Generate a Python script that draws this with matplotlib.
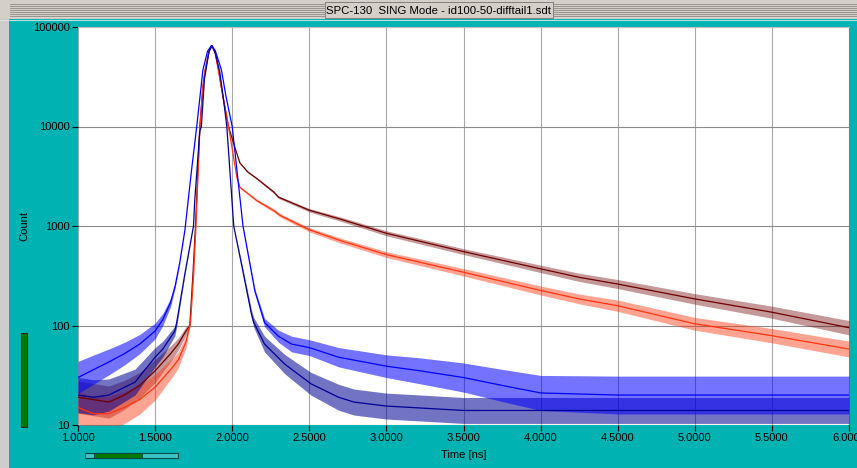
import matplotlib
matplotlib.use("Agg")
import matplotlib.pyplot as plt
from matplotlib.patches import Rectangle
from matplotlib.ticker import FixedLocator, NullLocator, FuncFormatter
import numpy as np

# --- valeurs (Time [ns], Count) ---
t_maroon = [1.00, 1.10, 1.20, 1.30, 1.40, 1.50, 1.60, 1.65, 1.70, 1.725, 1.745, 1.762,
            1.79, 1.81, 1.825, 1.85, 1.868, 1.89, 1.911, 1.94, 1.976, 2.01, 2.05, 2.10,
            2.16, 2.27, 2.30, 2.50, 2.70, 3.00, 3.50, 4.00, 4.25, 4.50, 5.00, 5.50, 6.00]
c_maroon = [19, 18, 17, 20, 25, 35, 52, 65, 88, 100, 320, 1000,
            10000, 25000, 37000, 57000, 65000, 55000, 37000, 20000, 10000, 6700, 4300, 3500,
            3000, 2190, 1950, 1440, 1175, 845, 553, 371, 305, 261, 185, 136, 95]
# largeur du bruit (facteur haut/bas)
s_maroon = [1.45, 1.45, 1.45, 1.4, 1.35, 1.3, 1.2, 1.15, 1.1, 1.05, 1.02, 1.0,
            1.0, 1.0, 1.0, 1.0, 1.0, 1.0, 1.0, 1.0, 1.0, 1.0, 1.01, 1.02,
            1.02, 1.03, 1.03, 1.04, 1.05, 1.06, 1.07, 1.09, 1.1, 1.11, 1.13, 1.15, 1.18]

t_orange = [1.00, 1.10, 1.20, 1.30, 1.40, 1.50, 1.60, 1.65, 1.70, 1.73, 1.75, 1.765,
            1.79, 1.81, 1.825, 1.85, 1.868, 1.89, 1.911, 1.94, 1.976, 2.00, 2.03, 2.05,
            2.16, 2.27, 2.31, 2.50, 2.70, 3.00, 3.50, 4.00, 4.25, 4.50, 5.00, 5.50, 6.00]
c_orange = [15, 13, 13, 15, 18, 24, 36, 45, 68, 110, 330, 1000,
            9500, 25000, 37000, 57000, 65000, 55000, 37000, 20000, 10000, 6000, 3100, 2450,
            1800, 1430, 1280, 917, 715, 516, 343, 225, 185, 158, 104, 79, 58]
s_orange = [1.45, 1.5, 1.5, 1.45, 1.4, 1.35, 1.25, 1.2, 1.15, 1.05, 1.02, 1.0,
            1.0, 1.0, 1.0, 1.0, 1.0, 1.0, 1.0, 1.0, 1.0, 1.0, 1.01, 1.02,
            1.03, 1.04, 1.04, 1.05, 1.06, 1.07, 1.09, 1.11, 1.12, 1.14, 1.16, 1.18, 1.2]

t_blue = [1.00, 1.10, 1.20, 1.30, 1.40, 1.50, 1.55, 1.60, 1.63, 1.66, 1.693, 1.736,
          1.77, 1.81, 1.84, 1.865, 1.89, 1.93, 1.96, 2.00, 2.07, 2.147, 2.21, 2.30,
          2.386, 2.50, 2.69, 3.00, 3.22, 3.50, 3.75, 4.00, 4.50, 5.00, 5.50, 6.00]
c_blue = [30, 36, 43, 52, 65, 88, 115, 170, 250, 430, 900, 3600,
          10000, 37000, 57000, 65000, 58000, 37000, 20000, 10000, 1000, 222, 107, 78,
          65, 60, 48, 39, 35, 30, 25, 21, 20, 20, 20, 20]
s_blue = [1.45, 1.4, 1.35, 1.3, 1.25, 1.2, 1.15, 1.1, 1.05, 1.02, 1.0, 1.0,
          1.0, 1.0, 1.0, 1.0, 1.0, 1.0, 1.0, 1.0, 1.0, 1.05, 1.1, 1.15,
          1.2, 1.2, 1.25, 1.3, 1.35, 1.4, 1.45, 1.5, 1.55, 1.55, 1.55, 1.55]

t_navy = [1.00, 1.10, 1.20, 1.37, 1.50, 1.55, 1.628, 1.64, 1.693, 1.749, 1.757, 1.79,
          1.80, 1.82, 1.85, 1.87, 1.89, 1.92, 1.945, 1.965, 2.01, 2.06, 2.125, 2.14,
          2.21, 2.34, 2.51, 2.69, 2.79, 3.00, 3.50, 4.00, 4.50, 5.00, 5.50, 6.00]
c_navy = [20, 19, 20, 27, 48, 58, 88, 107, 330, 1000, 1800, 9000,
          10000, 30000, 57000, 65000, 55000, 35000, 18000, 10000, 1000, 415, 130, 107,
          65, 41, 26, 19, 17, 15.5, 14, 14, 14, 14, 14, 14]
s_navy = [1.5, 1.5, 1.45, 1.35, 1.25, 1.2, 1.12, 1.1, 1.03, 1.0, 1.0, 1.0,
          1.0, 1.0, 1.0, 1.0, 1.0, 1.0, 1.0, 1.0, 1.0, 1.05, 1.1, 1.12,
          1.2, 1.25, 1.3, 1.35, 1.35, 1.35, 1.35, 1.35, 1.35, 1.35, 1.35, 1.35]

x_ticks = [1.0, 1.5, 2.0, 2.5, 3.0, 3.5, 4.0, 4.5, 5.0, 5.5, 6.0]
y_ticks = [10, 100, 1000, 10000, 100000]
title = "SPC-130  SING Mode - id100-50-difftail1.sdt"

W, H = 857, 468
TEAL = "#00B2B2"
plt.rcParams["font.family"] = ["Liberation Sans", "DejaVu Sans"]

fig = plt.figure(figsize=(W / 100, H / 100), dpi=100)
fig.patch.set_facecolor(TEAL)


def rect(x0, y0, x1, y1, **kw):
    # rectangle en pixels (origine en haut a gauche)
    fig.patches.append(Rectangle((x0 / W, 1 - y1 / H), (x1 - x0) / W, (y1 - y0) / H,
                                 transform=fig.transFigure, figure=fig, **kw))


def hline(x0, x1, y, **kw):
    fig.add_artist(plt.Line2D([x0 / W, x1 / W], [1 - y / H, 1 - y / H],
                              transform=fig.transFigure, **kw))


# barre de titre
rect(0, 0, W, 19, facecolor="#D4D0C8", edgecolor="none")
for yy in range(4, 18, 2):
    hline(10, 325, yy, color="#8E8B84", lw=0.6)
    hline(553, W, yy, color="#8E8B84", lw=0.6)
rect(325, 2, 553, 18, facecolor="#D4D0C8", edgecolor="#808080", lw=0.7)
fig.text(439 / W, 1 - 10.5 / H, title, ha="center", va="center", fontsize=8.2, color="black")
hline(0, W, 19.5, color="#E8E8E8", lw=0.6)

# bord gauche gris
rect(0, 19, 9, H, facecolor="#CDCDCD", edgecolor="none")

# barre verte verticale et barre de defilement
rect(21, 333, 27, 427, facecolor="#007A00", edgecolor="#1C2E1C", lw=0.8)
rect(85, 453, 178, 458, facecolor="#3CC4C4", edgecolor="#104848", lw=0.8)
rect(94, 453, 142, 458, facecolor="#007A00", edgecolor="#104848", lw=0.8)

ax = fig.add_axes([78 / W, 1 - 425 / H, (849 - 78) / W, (425 - 27) / H])
ax.set_facecolor("white")

series = [
    (t_maroon, c_maroon, s_maroon, "#6E0000", 0.4),
    (t_orange, c_orange, s_orange, "#FF3510", 0.45),
    (t_navy, c_navy, s_navy, "#000095", 0.55),
    (t_blue, c_blue, s_blue, "#0000FF", 0.55),
]
for t, c, s, col, a in series:
    c = np.array(c, dtype=float)
    s = np.array(s, dtype=float)
    ax.fill_between(t, c / s, c * s, color=col, alpha=a, lw=0)
    ax.plot(t, c, color=col, lw=0.9)

ax.set_yscale("log")
ax.set_xlim(1.0, 6.0)
ax.set_ylim(10, 100000)
ax.xaxis.set_major_locator(FixedLocator(x_ticks))
ax.yaxis.set_major_locator(FixedLocator(y_ticks))
ax.yaxis.set_minor_locator(NullLocator())
ax.xaxis.set_major_formatter(FuncFormatter(lambda v, p: "%.4f" % v))
ax.yaxis.set_major_formatter(FuncFormatter(lambda v, p: "%d" % v))
ax.tick_params(axis="both", direction="out", length=4, width=0.8, color="black",
               labelsize=8, pad=2)
ax.grid(True, axis="x", color="#A8A8A8", lw=0.8)
ax.grid(True, axis="y", color="#8C8C8C", lw=0.8)
ax.set_axisbelow(True)
for side in ["left", "right", "bottom"]:
    ax.spines[side].set_visible(False)
ax.spines["top"].set_color("#C0C0C0")
ax.spines["top"].set_linewidth(0.8)

ax.set_xlabel("Time [ns]", fontsize=8, labelpad=5)
ax.set_ylabel("Count", fontsize=8)
ax.yaxis.set_label_coords((29 - 78) / (849 - 78), (425 - 226) / (425 - 27))

fig.savefig("out.png", dpi=100, facecolor=fig.get_facecolor())
